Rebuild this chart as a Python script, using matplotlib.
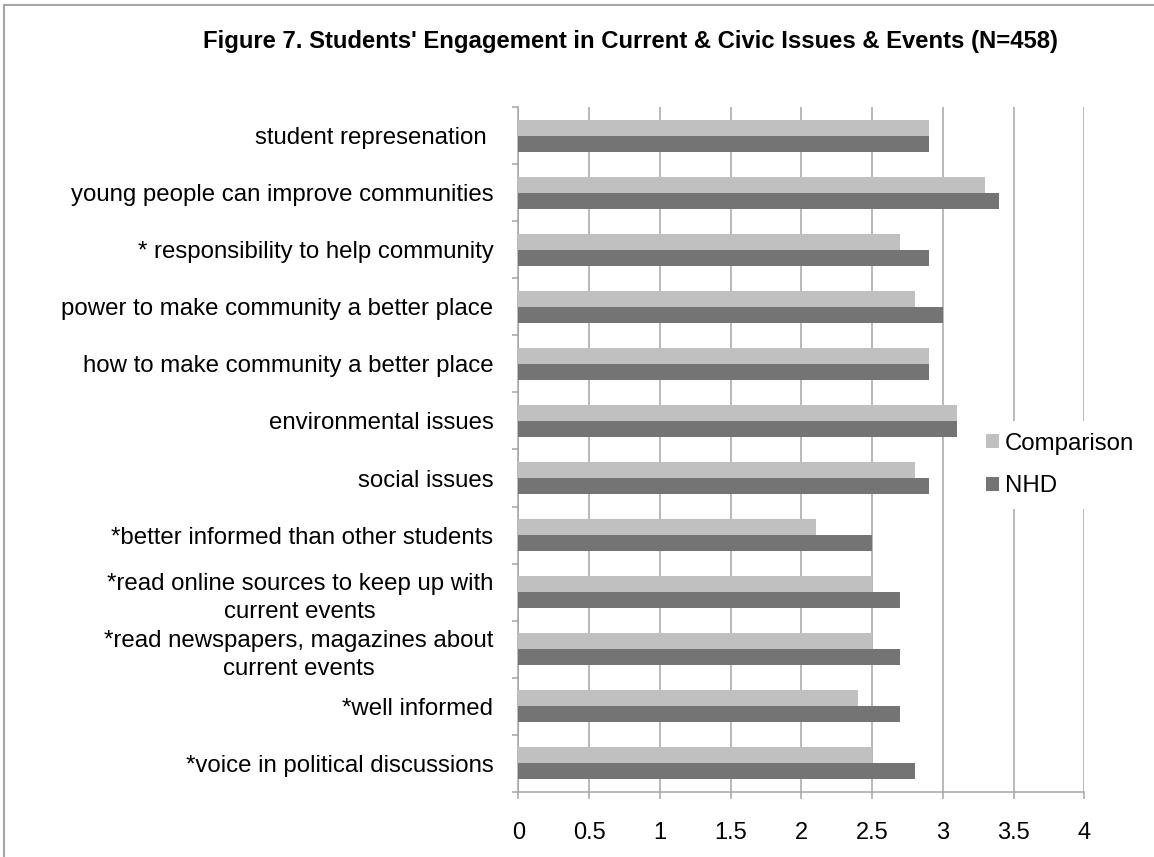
import numpy as np
import matplotlib
matplotlib.use("Agg")
import matplotlib.pyplot as plt
from matplotlib.patches import Patch
from matplotlib.lines import Line2D

plt.rcParams['font.family'] = ['Liberation Sans', 'DejaVu Sans']

# data, top to bottom as shown
categories = [
    "student represenation ",
    "young people can improve communities",
    "* responsibility to help community",
    "power to make community a better place",
    "how to make community a better place",
    "environmental issues",
    "social issues",
    "*better informed than other students",
    "*read online sources to keep up with\ncurrent events",
    "*read newspapers, magazines about\ncurrent events",
    "*well informed",
    "*voice in political discussions",
]
comparison = [2.9, 3.3, 2.7, 2.8, 2.9, 3.1, 2.8, 2.1, 2.5, 2.5, 2.4, 2.5]
nhd = [2.9, 3.4, 2.9, 3.0, 2.9, 3.1, 2.9, 2.5, 2.7, 2.7, 2.7, 2.8]
xticks = [0, 0.5, 1, 1.5, 2, 2.5, 3, 3.5, 4]
xtick_labels = ["0", "0.5", "1", "1.5", "2", "2.5", "3", "3.5", "4"]

light = "#c0c0c0"
dark = "#747474"
grid_col = "#a6a6a6"

fig = plt.figure(figsize=(11.54, 8.57), dpi=100)
ax = fig.add_axes([0.4493, 0.0762, 0.4903, 0.7986])

y = np.arange(len(categories))
h = 0.28
ax.barh(y - h / 2, comparison, height=h, color=light, label="Comparison", zorder=3)
ax.barh(y + h / 2, nhd, height=h, color=dark, label="NHD", zorder=3)

ax.set_xlim(0, 4)
ax.set_ylim(len(categories) - 0.5, -0.5)

ax.set_xticks(xticks)
ax.set_xticklabels(xtick_labels, fontsize=17)
ax.tick_params(axis='x', direction='out', length=5, width=1.1, color=grid_col, pad=17)

ax.set_yticks(y)
ax.set_yticklabels(categories, fontsize=17.3, multialignment='center', linespacing=1.35)
ax.set_yticks(np.arange(-0.5, len(categories), 1), minor=True)
ax.tick_params(axis='y', which='major', length=0, pad=18)
ax.tick_params(axis='y', which='minor', direction='out', length=4.5, width=1.1, color=grid_col)

ax.xaxis.grid(True, color=grid_col, linewidth=1.1, zorder=0)
ax.set_axisbelow(True)
for side in ['top', 'right']:
    ax.spines[side].set_visible(False)
for side in ['left', 'bottom']:
    ax.spines[side].set_color(grid_col)
    ax.spines[side].set_linewidth(1.1)

handles = [Patch(facecolor=light, edgecolor='none'), Patch(facecolor=dark, edgecolor='none')]
leg = fig.legend(handles, ["Comparison", "NHD"], loc='center left',
                 bbox_to_anchor=(974 / 1154, 1 - 465 / 857), fontsize=17.3,
                 frameon=True, facecolor='white', edgecolor='none', fancybox=False,
                 framealpha=1, handlelength=0.52, handleheight=0.52,
                 handletextpad=0.27, labelspacing=0.85, borderpad=0.5, borderaxespad=0)

fig.text(0.5464, 1 - 47.7 / 857, "Figure 7. Students' Engagement in Current & Civic Issues & Events (N=458)",
         ha='center', va='baseline', fontsize=17.2, fontweight='bold')

# outer chart frame (top and left edges visible)
fig.add_artist(Line2D([4 / 1154, 4 / 1154], [0, 1 - 5 / 857], transform=fig.transFigure,
                      color=grid_col, linewidth=1.5))
fig.add_artist(Line2D([4 / 1154, 1], [1 - 5 / 857, 1 - 5 / 857], transform=fig.transFigure,
                      color=grid_col, linewidth=1.5))

fig.savefig("out.png", dpi=100, facecolor='white')
